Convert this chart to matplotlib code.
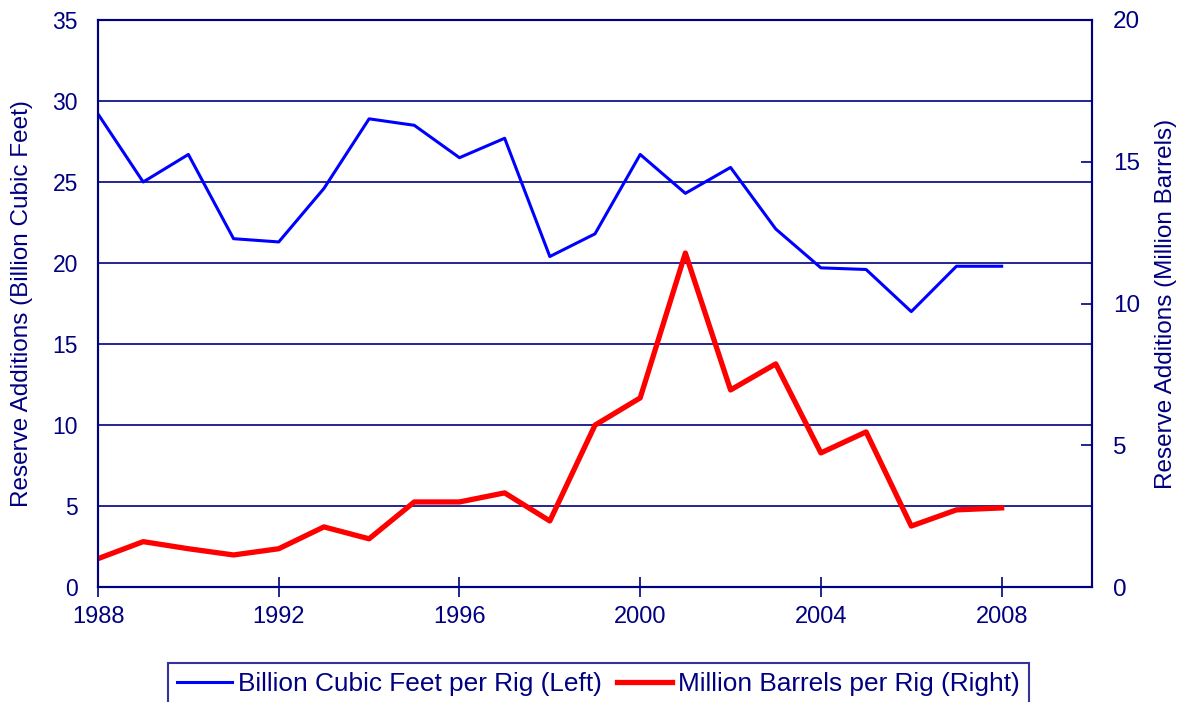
import matplotlib
matplotlib.use("Agg")
import matplotlib.pyplot as plt

years = list(range(1988, 2009))
gas_bcf = [29.2, 25.0, 26.7, 21.5, 21.3, 24.6, 28.9, 28.5, 26.5, 27.7, 20.4,
           21.8, 26.7, 24.3, 25.9, 22.1, 19.7, 19.6, 17.0, 19.8, 19.8]
oil_mmb = [1.0, 1.6, 1.35, 1.13, 1.35, 2.12, 1.7, 3.0, 3.0, 3.32, 2.33,
           5.71, 6.67, 11.78, 6.95, 7.87, 4.73, 5.47, 2.15, 2.72, 2.79]
x_ticks = [1988, 1992, 1996, 2000, 2004, 2008]

navy = "#000080"
plt.rcParams['font.family'] = ['Liberation Sans', 'DejaVu Sans']

fig = plt.figure(figsize=(11.86, 7.02), dpi=100)
ax = fig.add_axes([98/1186, 1-587/702, (1092-98)/1186, (587-20)/702])
ax2 = ax.twinx()

l1, = ax.plot(years, gas_bcf, color="#0000ff", lw=2.2, label="Billion Cubic Feet per Rig (Left)")
l2, = ax2.plot(years, oil_mmb, color="#ff0000", lw=3.8, label="Million Barrels per Rig (Right)")

ax.set_xlim(1988, 2010)
ax.set_ylim(0, 35)
ax2.set_ylim(0, 20)
ax.set_yticks(range(0, 36, 5))
ax2.set_yticks(range(0, 21, 5))
ax.set_xticks(x_ticks)
ax.grid(axis='y', color=navy, lw=1.2)
ax.set_axisbelow(True)

for a in (ax, ax2):
    for s in a.spines.values():
        s.set_color(navy)
        s.set_linewidth(1.5)
ax.tick_params(axis='y', length=0, labelsize=16.5, colors=navy, pad=14.5)
ax.tick_params(axis='x', direction='inout', length=14, width=1.2, labelsize=17, colors=navy, pad=7)
ax2.tick_params(axis='y', direction='in', length=8, width=1.2, labelsize=17.5, colors=navy, pad=15)

ax.set_ylabel("Reserve Additions (Billion Cubic Feet)", fontsize=17.5, color=navy)
ax2.set_ylabel("Reserve Additions (Million Barrels)", fontsize=17.5, color=navy)
ax.yaxis.set_label_coords(-(98-33)/994, 0.5)
ax2.yaxis.set_label_coords(1+(1155-1092)/994, 0.5)

leg = fig.legend(handles=[l1, l2], loc='upper left', bbox_to_anchor=(168/1186, 1-663/702),
                 ncol=2, fontsize=18.9, frameon=True, fancybox=False, edgecolor=navy,
                 handlelength=2.1, handletextpad=0.2, columnspacing=0.6, borderpad=0.35,
                 borderaxespad=0)
leg.get_frame().set_linewidth(1.5)
for t in leg.get_texts():
    t.set_color(navy)

fig.savefig("out.png", dpi=100)
